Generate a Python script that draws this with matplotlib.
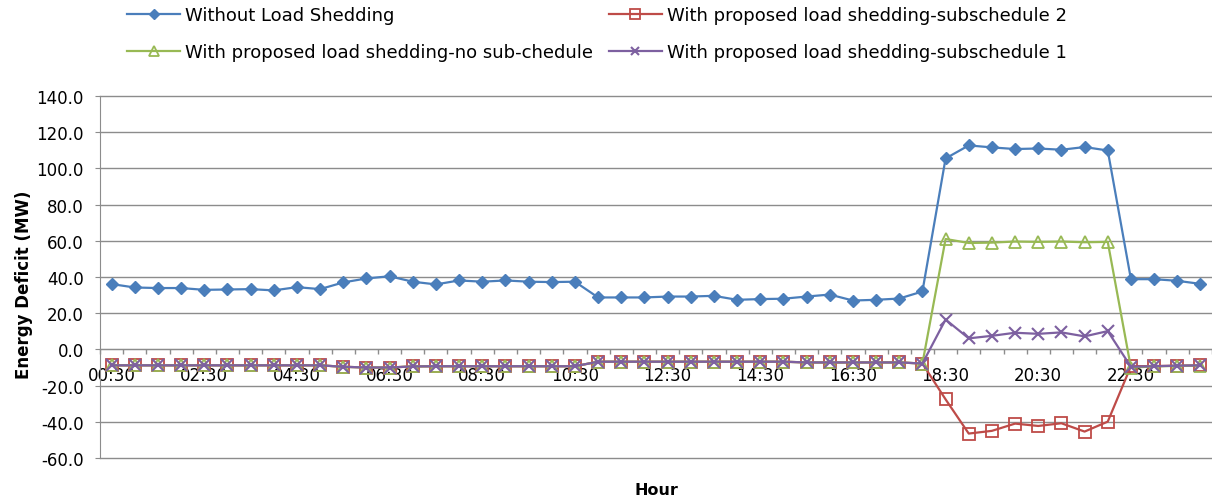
import matplotlib
matplotlib.use("Agg")
import matplotlib.pyplot as plt
from matplotlib.ticker import FixedLocator, FuncFormatter

plt.rcParams['font.family'] = ['DejaVu Sans']

hours = ["00:30", "01:00", "01:30", "02:00", "02:30", "03:00", "03:30", "04:00",
         "04:30", "05:00", "05:30", "06:00", "06:30", "07:00", "07:30", "08:00",
         "08:30", "09:00", "09:30", "10:00", "10:30", "11:00", "11:30", "12:00",
         "12:30", "13:00", "13:30", "14:00", "14:30", "15:00", "15:30", "16:00",
         "16:30", "17:00", "17:30", "18:00", "18:30", "19:00", "19:30", "20:00",
         "20:30", "21:00", "21:30", "22:00", "22:30", "23:00", "23:30", "24:00"]

without_ls = [36.1, 34.2, 33.9, 33.9, 32.9, 33.1, 33.3, 32.6, 34.4, 33.3,
              37.0, 39.2, 40.4, 37.4, 35.9, 38.1, 37.4, 38.1, 37.4, 37.2,
              37.4, 28.7, 28.7, 28.7, 29.2, 29.2, 29.6, 27.4, 27.8, 28.0,
              29.2, 30.3, 27.0, 27.4, 28.1, 32.0, 105.5, 112.7, 111.6, 110.7,
              111.0, 110.3, 111.8, 109.9, 38.8, 38.8, 37.9, 36.2]

sub2 = [-8.8, -8.8, -8.8, -8.8, -8.8, -8.8, -8.8, -8.8, -8.8, -8.8,
        -9.6, -10.0, -10.0, -9.4, -9.3, -9.3, -9.3, -9.3, -9.3, -9.3,
        -9.3, -6.8, -6.8, -6.8, -6.8, -6.8, -6.8, -6.8, -6.8, -6.8,
        -7.2, -7.2, -7.2, -7.2, -7.2, -7.8, -27.6, -46.5, -45.0, -41.0,
        -42.3, -40.8, -45.4, -39.9, -9.3, -9.2, -9.0, -8.8]

no_sub = [-8.8, -8.8, -8.8, -8.8, -8.8, -8.8, -8.8, -8.8, -8.8, -8.8,
          -9.6, -10.0, -10.0, -9.4, -9.3, -9.3, -9.3, -9.3, -9.3, -9.3,
          -9.3, -6.8, -6.8, -6.8, -6.8, -6.8, -6.8, -6.8, -6.8, -6.8,
          -7.2, -7.2, -7.2, -7.2, -7.2, -7.8, 61.0, 58.8, 59.0, 59.6,
          59.4, 59.6, 59.2, 59.4, -10.1, -9.4, -9.1, -8.9]

sub1 = [-8.8, -8.8, -8.8, -8.8, -8.8, -8.8, -8.8, -8.8, -8.8, -8.8,
        -9.6, -10.0, -10.0, -9.4, -9.3, -9.3, -9.3, -9.3, -9.3, -9.3,
        -9.3, -6.8, -6.8, -6.8, -6.8, -6.8, -6.8, -6.8, -6.8, -6.8,
        -7.2, -7.2, -7.2, -7.2, -7.2, -7.8, 16.5, 6.1, 7.5, 9.2,
        8.6, 9.4, 7.2, 10.1, -9.6, -9.3, -9.0, -8.8]

yticks = [-60, -40, -20, 0, 20, 40, 60, 80, 100, 120, 140]

BLUE = "#4A7EBB"
RED = "#BE4B48"
GREEN = "#98B954"
PURPLE = "#7D60A0"
GRID = "#8C8C8C"

fig = plt.figure(figsize=(12.12, 5.02), dpi=100)
ax = fig.add_axes([100 / 1212, 1 - 459 / 502, 1112 / 1212, (459 - 97) / 502])

x = list(range(len(hours)))
h_blue, = ax.plot(x, without_ls, color=BLUE, lw=1.6, marker='D', ms=6.5,
                  markerfacecolor=BLUE, markeredgecolor=BLUE, zorder=3)
h_red, = ax.plot(x, sub2, color=RED, lw=1.6, marker='s', ms=9,
                 markerfacecolor='none', markeredgecolor=RED, mew=1.3, zorder=4)
h_green, = ax.plot(x, no_sub, color=GREEN, lw=1.6, marker='^', ms=9,
                   markerfacecolor='none', markeredgecolor=GREEN, mew=1.3, zorder=5)
h_purple, = ax.plot(x, sub1, color=PURPLE, lw=1.6, marker='x', ms=8.5,
                    markeredgecolor=PURPLE, mew=1.5, zorder=6)

ax.set_xlim(-0.5, len(hours) - 0.5)
ax.set_ylim(-60, 140)
ax.yaxis.set_major_locator(FixedLocator(yticks))
ax.yaxis.set_major_formatter(FuncFormatter(lambda v, p: f"{v:.1f}"))
ax.grid(axis='y', color=GRID, lw=1.0)
ax.set_axisbelow(True)
for gl in ax.get_ygridlines():
    gl.set_clip_on(False)

for s in ['top', 'right']:
    ax.spines[s].set_visible(False)
ax.spines['left'].set_color(GRID)
ax.spines['bottom'].set_color(GRID)
ax.spines['bottom'].set_position(('data', 0))

ax.set_xticks([i for i in x if i % 4 == 0])
ax.set_xticklabels([hours[i] for i in x if i % 4 == 0])
ax.set_xticks([i - 0.5 for i in range(len(hours) + 1)], minor=True)
ax.tick_params(axis='x', which='major', length=0, pad=12, labelsize=12, colors='#000000')
ax.tick_params(axis='x', which='minor', length=3.6, color=GRID, width=1.0)
ax.tick_params(axis='y', which='major', length=3.6, color=GRID, labelsize=12, pad=8)

ax.set_ylabel("Energy Deficit (MW)", fontsize=12, fontweight='bold')
ax.yaxis.set_label_coords((33 - 100) / 1112, 0.48)
fig.text(656 / 1212, 1 - 491 / 502, "Hour", ha='center', va='center',
         fontsize=11.5, fontweight='bold')

fig.legend([h_blue, h_green, h_red, h_purple],
           ["Without Load Shedding", "With proposed load shedding-no sub-chedule",
            "With proposed load shedding-subschedule 2",
            "With proposed load shedding-subschedule 1"],
           ncol=2, loc='upper left', bbox_to_anchor=(127 / 1212, 1 - 7 / 502),
           frameon=False, fontsize=13, handlelength=2.95, columnspacing=0.85,
           labelspacing=1.08, handletextpad=0.28, markerscale=0.75, borderpad=0,
           borderaxespad=0)

fig.savefig("out.png", dpi=100)
